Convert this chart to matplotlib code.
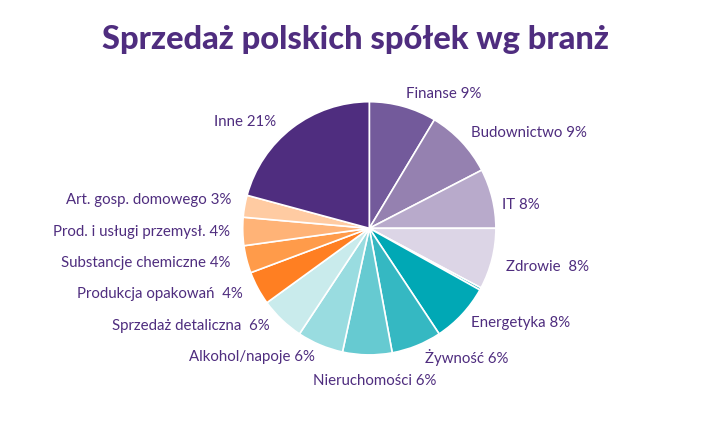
import numpy as np
import matplotlib
matplotlib.use("Agg")
import matplotlib.pyplot as plt

plt.rcParams["font.family"] = ["Lato", "DejaVu Sans"]

# sectors, clockwise from 12 o'clock
sectors = ["Finanse 9%", "Budownictwo 9%", "IT 8%", "Zdrowie  8%", "",
           "Energetyka 8%", "Żywność 6%", "Nieruchomości 6%", "Alkohol/napoje 6%",
           "Sprzedaż detaliczna  6%", "Produkcja opakowań  4%",
           "Substancje chemiczne 4%", "Prod. i usługi przemysł. 4%",
           "Art. gosp. domowego 3%", "Inne 21%"]
shares = [8.6, 8.8, 7.6, 7.8, 0.3, 7.6, 6.4, 6.3, 5.9, 5.7, 4.3, 3.5, 3.6, 2.8, 20.8]
colors = ["#735A9B", "#9581B0", "#B8AACB", "#DCD5E6", "#00A8B5",
          "#00A8B5", "#35B8C2", "#66CAD1", "#99DCE0", "#C9EBEC",
          "#FF7F22", "#FF9B4A", "#FFB377", "#FFCBA2", "#4F2D7F"]

purple = "#4F2D7F"

W, H = 709, 425
cx, cy, R = 369.3, 228.3, 126.6

fig = plt.figure(figsize=(W / 100, H / 100), dpi=100)
ax = fig.add_axes([0, 0, 1, 1])

wedges, texts = ax.pie(shares, labels=sectors, colors=colors, startangle=90,
                       counterclock=False, labeldistance=1.1,
                       wedgeprops=dict(edgecolor="white", linewidth=1.2),
                       textprops=dict(color=purple, fontsize=10.8))

# small hand nudges of label anchors (pie radius units)
nudge = {"Inne 21%": (-0.07, -0.03), "IT 8%": (-0.02, -0.08),
         "Zdrowie  8%": (0.01, -0.04), "Art. gosp. domowego 3%": (-0.01, 0.03),
         "Żywność 6%": (0.03, 0.0), "Sprzedaż detaliczna  6%": (-0.03, 0.02),
         "Produkcja opakowań  4%": (-0.03, 0.0), "Substancje chemiczne 4%": (-0.03, 0.0)}
for t in texts:
    s = t.get_text()
    if s in nudge:
        x, y = t.get_position()
        t.set_position((x + nudge[s][0], y + nudge[s][1]))

# Nieruchomości label sits centred under the pie
t = texts[sectors.index("Nieruchomości 6%")]
t.set_position((0.04, -1.21))
t.set_ha("center")

ax.set_xlim(-cx / R, (W - cx) / R)
ax.set_ylim(-(H - cy) / R, cy / R)
ax.set_aspect("auto")
ax.axis("off")

fig.text(355 / W, 1 - 40 / H, "Sprzedaż polskich spółek wg branż",
         ha="center", va="center", fontsize=23.5, fontweight="black", color=purple)

fig.savefig("out.png", dpi=100)
